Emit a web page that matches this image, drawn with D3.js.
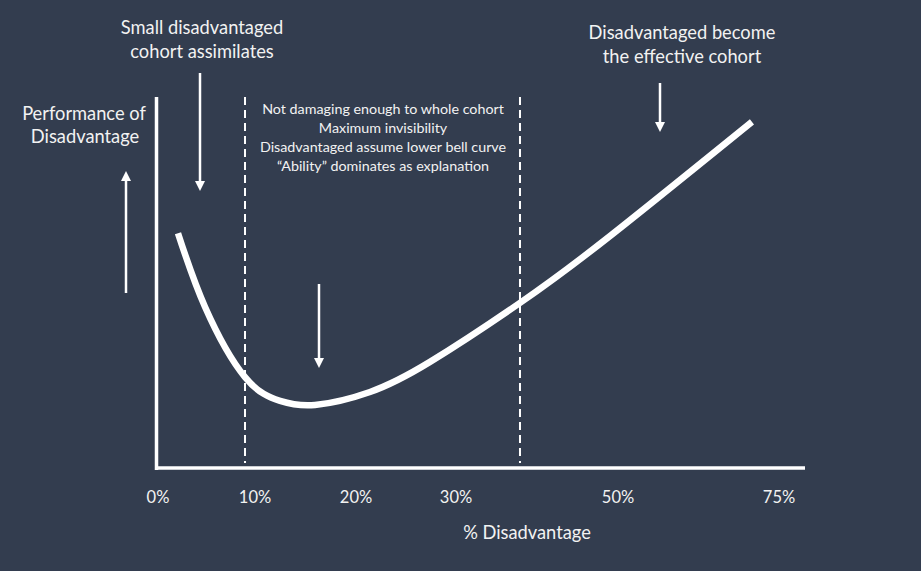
<!DOCTYPE html>
<html>
<head>
<meta charset="utf-8">
<script src="https://cdn.jsdelivr.net/npm/d3@7/dist/d3.min.js"></script>
<style>
  html, body { margin: 0; padding: 0; background: #333d4f; }
  svg { display: block; }
  text { font-family: Lato, "Open Sans", sans-serif; fill: #f2f2f2; }
</style>
</head>
<body>
<svg id="chart" width="921" height="571"></svg>
<script>
// ---- data ----
const tickValues = [0, 10, 20, 30, 50, 75];
const tickLabels = ["0%", "10%", "20%", "30%", "50%", "75%"];
const curveX = [2.06, 4.85, 8.97, 12.48, 15.94, 21.4, 27.4, 37.9, 49.0, 70.8];
const curvePerf = [63.3, 43.4, 24.5, 18.1, 17.0, 20.5, 28.6, 44.5, 62.5, 93.3];
const dividers = [8.97, 37.9];
const middleLines = ["Not damaging enough to whole cohort", "Maximum invisibility", "Disadvantaged assume lower bell curve", "\u201CAbility\u201D dominates as explanation"];

const svg = d3.select("#chart");
const W = 921, H = 571;
svg.append("rect").attr("width", W).attr("height", H).attr("fill", "#333d4f");

// piecewise-linear x scale (the tick spacing is not uniform)
const x = d3.scaleLinear().domain(tickValues).range([158, 255, 356, 456, 618, 779]);
const y = d3.scaleLinear().domain([0, 100]).range([468, 97]);

const white = "#ffffff";

// arrow marker
const defs = svg.append("defs");
defs.append("marker").attr("id", "arrow")
  .attr("viewBox", "0 0 10 10").attr("refX", 5).attr("refY", 5)
  .attr("markerWidth", 4).attr("markerHeight", 4.4).attr("orient", "auto")
  .attr("markerUnits", "strokeWidth")
  .append("path").attr("d", "M0,0 L10,5 L0,10 Z").attr("fill", white);

// dashed dividers
svg.selectAll("line.div").data(dividers).join("line")
  .attr("x1", d => x(d)).attr("x2", d => x(d))
  .attr("y1", 97).attr("y2", 463)
  .attr("stroke", white).attr("stroke-width", 2)
  .attr("stroke-dasharray", "8,5");

// axes
svg.append("line").attr("x1", 156.5).attr("x2", 156.5).attr("y1", 97).attr("y2", 470)
  .attr("stroke", white).attr("stroke-width", 3.5);
svg.append("line").attr("x1", 155).attr("x2", 805).attr("y1", 468).attr("y2", 468)
  .attr("stroke", white).attr("stroke-width", 3.5);

// tick labels
svg.selectAll("text.tick").data(tickValues).join("text")
  .attr("class", "tick")
  .attr("x", d => x(d)).attr("y", 503)
  .attr("text-anchor", "middle").attr("font-size", 16.5)
  .text((d, i) => tickLabels[i]);

svg.append("text").attr("x", 527).attr("y", 539).attr("text-anchor", "middle")
  .attr("font-size", 18.3).text("% Disadvantage");

// curve
const pts = curveX.map((v, i) => [v, curvePerf[i]]);
svg.append("path").datum(pts)
  .attr("d", d3.line().x(d => x(d[0])).y(d => y(d[1])).curve(d3.curveNatural))
  .attr("fill", "none").attr("stroke", white).attr("stroke-width", 6.5);

// y label
svg.append("text").attr("x", 84).attr("y", 120).attr("text-anchor", "middle").attr("font-size", 18.3).text("Performance of");
svg.append("text").attr("x", 85).attr("y", 143).attr("text-anchor", "middle").attr("font-size", 18.3).text("Disadvantage");

// arrows
function arrow(x0, y0, x1, y1) {
  svg.append("line").attr("x1", x0).attr("y1", y0).attr("x2", x1).attr("y2", y1)
    .attr("stroke", white).attr("stroke-width", 2.5).attr("marker-end", "url(#arrow)");
}
arrow(126, 293, 126, 176);
arrow(200, 73, 200, 186);
arrow(319, 284, 319, 363);
arrow(660, 83, 660, 127);

// annotations
function multi(cx, y0, lines, size, lh) {
  lines.forEach((t, i) => {
    svg.append("text").attr("x", cx).attr("y", y0 + i * lh)
      .attr("text-anchor", "middle").attr("font-size", size).text(t);
  });
}
multi(202, 34, ["Small disadvantaged", "cohort assimilates"], 18.3, 24);
multi(682, 39, ["Disadvantaged become", "the effective cohort"], 18.3, 24);
multi(383, 114, middleLines, 14.3, 19);
</script>
</body>
</html>
